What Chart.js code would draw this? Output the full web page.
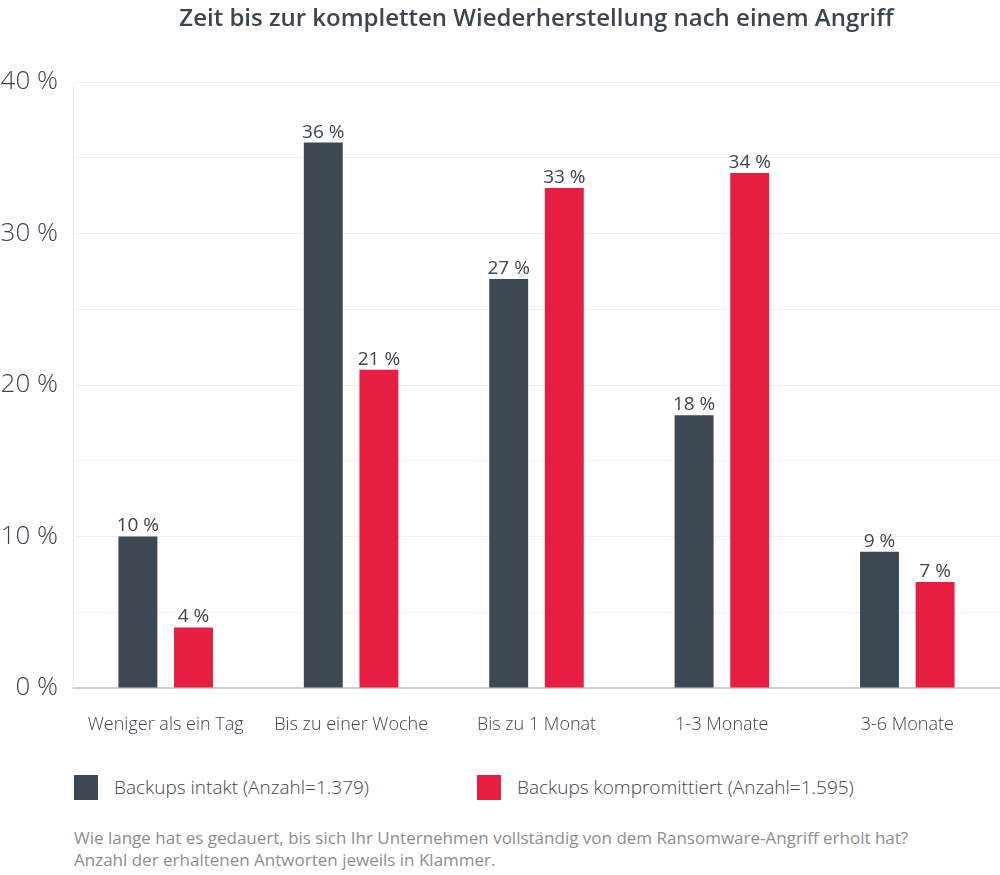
<!DOCTYPE html>
<html lang="de">
<head>
<meta charset="utf-8">
<title>Zeit bis zur kompletten Wiederherstellung</title>
<script src="https://cdn.jsdelivr.net/npm/chart.js@4.4.1/dist/chart.umd.min.js"></script>
<style>
  html, body { margin: 0; padding: 0; background: #fff; }
  body { width: 1000px; height: 875px; position: relative; overflow: hidden;
         font-family: "Open Sans", sans-serif; color: #3d4650; }
  #wrap { position: absolute; left: 0; top: 0; width: 1000px; height: 750px; }
  #legend { position: absolute; top: 774px; left: 74px; font-size: 19px; }
  .item { position: absolute; top: 0; display: flex; align-items: center; white-space: nowrap; }
  .box { width: 24px; height: 25px; margin-right: 16px; }
  #note { position: absolute; left: 74px; top: 827px; font-size: 17px;
          line-height: 22px; color: #8e8e8e; }
</style>
</head>
<body>
<div id="wrap"><canvas id="chart" width="1000" height="750"></canvas></div>
<div id="legend"></div>
<div id="note">Wie lange hat es gedauert, bis sich Ihr Unternehmen vollständig von dem Ransomware-Angriff erholt hat?<br>Anzahl der erhaltenen Antworten jeweils in Klammer.</div>

<script>
// Daten
const categories = ["Weniger als ein Tag", "Bis zu einer Woche", "Bis zu 1 Monat", "1-3 Monate", "3-6 Monate"];
const intakt = [10, 36, 27, 18, 9];
const kompromittiert = [4, 21, 33, 34, 7];
const seriesNames = ["Backups intakt (Anzahl=1.379)", "Backups kompromittiert (Anzahl=1.595)"];
const yTicks = [0, 10, 20, 30, 40];

const TEXT = "#3d4650";
const DARK = "#3d4852";
const RED  = "#e61e42";

// Wertebeschriftung über den Balken
const valueLabels = {
  id: "valueLabels",
  afterDatasetsDraw(chart) {
    const ctx = chart.ctx;
    ctx.save();
    ctx.font = "19px 'Open Sans', sans-serif";
    ctx.fillStyle = TEXT;
    ctx.textAlign = "center";
    ctx.textBaseline = "bottom";
    chart.data.datasets.forEach((ds, i) => {
      chart.getDatasetMeta(i).data.forEach((bar, j) => {
        ctx.fillText(ds.data[j] + " %", bar.x, bar.y - 1);
      });
    });
    ctx.restore();
  }
};

const chart = new Chart(document.getElementById("chart"), {
  type: "bar",
  data: {
    labels: categories,
    datasets: [
      { label: seriesNames[0], data: intakt, backgroundColor: DARK },
      { label: seriesNames[1], data: kompromittiert, backgroundColor: RED }
    ]
  },
  options: {
    responsive: false,
    animation: false,
    categoryPercentage: 0.6,
    barPercentage: 0.7,
    layout: { padding: 0 },
    plugins: {
      legend: { display: false },
      tooltip: { enabled: false },
      title: {
        display: true,
        fullSize: false,
        text: "Zeit bis zur kompletten Wiederherstellung nach einem Angriff",
        color: TEXT,
        font: { family: "'Open Sans', sans-serif", size: 24, weight: "600", lineHeight: 1.2 },
        padding: { top: 5, bottom: 48.2 }
      }
    },
    scales: {
      x: {
        grid: { display: false },
        border: { display: true, color: "#cfcfcf", width: 2 },
        ticks: {
          color: TEXT,
          padding: 18,
          font: { family: "'Open Sans', sans-serif", size: 18, weight: "300" },
          maxRotation: 0
        },
        afterFit: s => { s.height = 62; }
      },
      y: {
        min: 0,
        max: 40,
        grid: { color: "#efefef", lineWidth: 1, drawTicks: false },
        border: { display: true, color: "#eeeeee", width: 1 },
        ticks: {
          stepSize: 5,
          color: TEXT,
          padding: 15,
          font: { family: "'Open Sans', sans-serif", size: 26, weight: "300" },
          callback: v => yTicks.includes(v) ? v + " %" : ""
        },
        afterFit: s => { s.width = 73; }
      }
    }
  },
  plugins: [valueLabels]
});

// Legende als HTML
const legendPos = [0, 403];
const legend = document.getElementById("legend");
chart.data.datasets.forEach((ds, i) => {
  const item = document.createElement("div");
  item.className = "item";
  item.style.left = legendPos[i] + "px";
  item.innerHTML = `<span class="box" style="background:${ds.backgroundColor}"></span><span style="font-weight:300">${ds.label}</span>`;
  legend.appendChild(item);
});
</script>
</body>
</html>
